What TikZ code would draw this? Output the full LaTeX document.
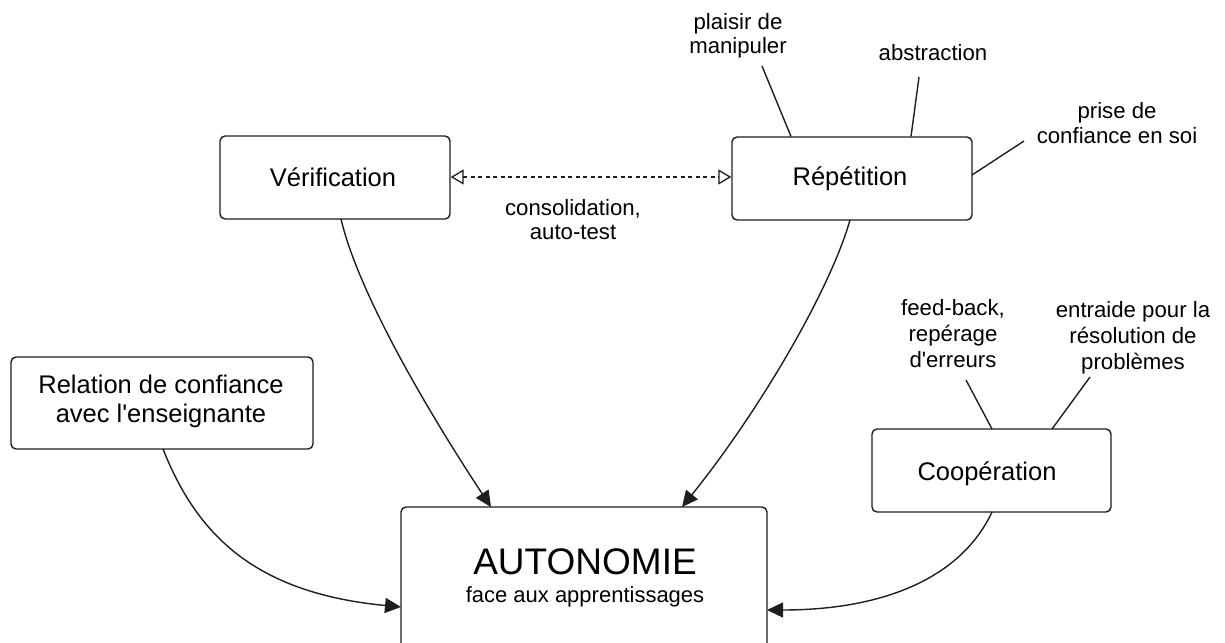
\documentclass[tikz,border=0pt]{standalone}
\usepackage{fontspec}
\setmainfont{Liberation Sans}
\usetikzlibrary{arrows.meta}
\begin{document}
\begin{tikzpicture}[x=1pt,y=-1pt,
  line width=1.4pt, draw={rgb,255:red,30;green,30;blue,30},
  box/.style={draw, rounded corners=5pt, inner sep=0pt, fill=white},
  boxtxt/.style={anchor=base, inner sep=0pt, font=\fontsize{25.5}{30}\selectfont},
  lbl/.style={anchor=base, inner sep=0pt, font=\fontsize{22.2}{26}\selectfont},
  arr/.style={-{Triangle[length=16pt,width=15pt]}},
  tick/.style={line width=1.4pt}
]
\useasboundingbox (0,0) rectangle (1225,642);
\clip (0,0) rectangle (1225,642);

% boxes
\node[box, minimum width=230pt, minimum height=83pt] (ver) at (335,177.5) {};
\node[box, minimum width=240pt, minimum height=83pt] (rep) at (852,178.5) {};
\node[box, minimum width=302pt, minimum height=92pt] (rel) at (162,403) {};
\node[box, minimum width=239pt, minimum height=83pt] (coop) at (991.5,470.5) {};
\node[box, minimum width=366pt, minimum height=145pt] (auto) at (584,579.5) {};

% box texts
\node[boxtxt] (vert) at (333,186) {Vérification};
\node[boxtxt] (rept) at (850,185) {Répétition};
\node[boxtxt] (relt1) at (161,393) {Relation de confiance};
\node[boxtxt] (relt2) at (161,422) {avec l\textquotesingle enseignante};
\node[boxtxt] (coopt) at (987,480) {Coopération};
\node[anchor=base, inner sep=0pt, font=\fontsize{37}{40}\selectfont] (autot1) at (585,574) {AUTONOMIE};
\node[anchor=base, inner sep=0pt, font=\fontsize{22}{26}\selectfont] (autot2) at (585,602) {face aux apprentissages};

% labels
\node[lbl] (cons1) at (573,215) {consolidation,};
\node[lbl] (cons2) at (573,239) {auto-test};
\node[lbl] (pl1) at (738,30) {plaisir de};
\node[lbl] (pl2) at (738,54) {manipuler};
\node[lbl] (abs) at (933,60) {abstraction};
\node[lbl] (pr1) at (1117,118) {prise de};
\node[lbl] (pr2) at (1117,143) {confiance en soi};
\node[lbl] (fb1) at (953,315) {feed-back,};
\node[lbl] (fb2) at (953,341) {repérage};
\node[lbl] (fb3) at (953,367) {d\textquotesingle erreurs};
\node[lbl] (en1) at (1133,317) {entraide pour la};
\node[lbl] (en2) at (1133,343) {résolution de};
\node[lbl] (en3) at (1133,369) {problèmes};

% tick-line end points
\coordinate (plE) at (762,66);
\coordinate (plS) at (791,136.5);
\coordinate (abE) at (919,77);
\coordinate (abS) at (911,136.5);
\coordinate (prE) at (1024,141);
\coordinate (prS) at (972,175);
\coordinate (fbE) at (966,380);
\coordinate (fbS) at (992,429);
\coordinate (enE) at (1090,377);
\coordinate (enS) at (1052,429);

\draw[tick] (plS) -- (plE);
\draw[tick] (abS) -- (abE);
\draw[tick] (prS) -- (prE);
\draw[tick] (fbS) -- (fbE);
\draw[tick] (enS) -- (enE);

% dashed double arrow
\draw[dash pattern=on 4pt off 3.5pt, line width=1.3pt,
  {Triangle[open,length=13pt,width=15pt]}-{Triangle[open,length=13pt,width=15pt]}]
  (ver.east |- 0,177) -- (rep.west |- 0,177);

% curved arrows
\coordinate (verS) at (341,219);
\coordinate (autoA) at (491,507);
\coordinate (repS) at (850,220);
\coordinate (autoB) at (682,507);
\coordinate (relS) at (163,449);
\coordinate (autoC) at (401,607);
\coordinate (coopS) at (992,512);
\coordinate (autoD) at (767,610);

\draw[arr] (verS) .. controls (360,300) and (440,430) .. (autoA);
\draw[arr] (repS) .. controls (830,290) and (760,410) .. (autoB);
\draw[arr] (relS) .. controls (197,535) and (255,593) .. (autoC);
\draw[arr] (coopS) .. controls (960,580) and (880,610) .. (autoD);
\end{tikzpicture}
\end{document}
